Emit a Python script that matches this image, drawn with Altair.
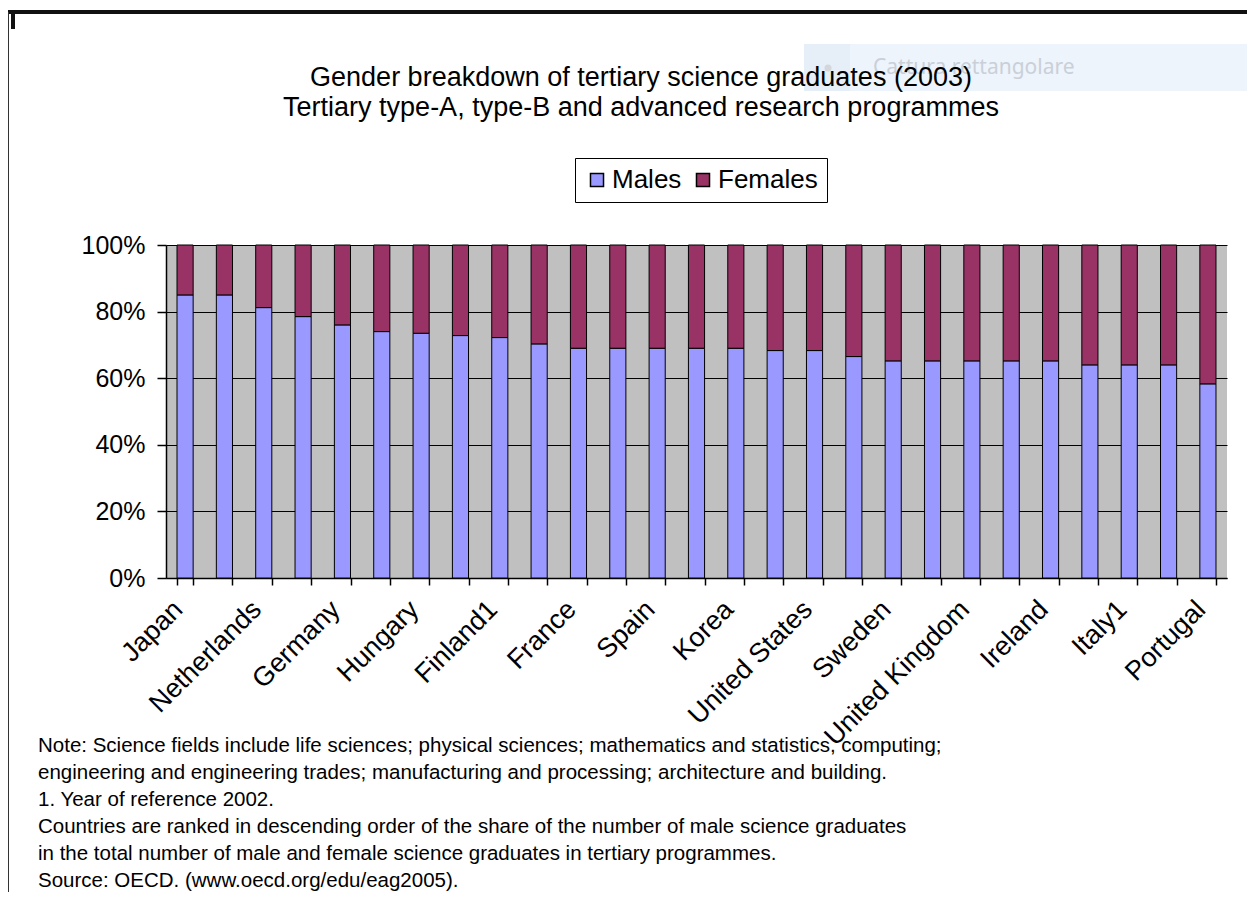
import altair as alt
import pandas as pd

# ---------------- data ----------------
countries = ["Japan", "Switzerland", "Netherlands", "Czech Republic", "Germany",
             "Austria", "Hungary", "Slovak Republic", "Finland1", "Belgium",
             "France", "Norway", "Spain", "Denmark", "Korea", "Australia",
             "United States", "Mexico", "Sweden", "Iceland", "United Kingdom",
             "New Zealand", "Ireland", "Poland", "Italy1", "Turkey", "Portugal"]
labelled = ["Japan", "Netherlands", "Germany", "Hungary", "Finland1", "France",
            "Spain", "Korea", "United States", "Sweden", "United Kingdom",
            "Ireland", "Italy1", "Portugal"]
males = [85.0, 85.0, 81.2, 78.5, 76.0, 74.0, 73.5, 72.8, 72.2, 70.3, 69.0, 69.0,
         69.0, 69.0, 69.0, 68.3, 68.3, 66.5, 65.2, 65.2, 65.2, 65.2, 65.2, 64.0,
         64.0, 64.0, 58.3]
females = [15.0, 15.0, 18.8, 21.5, 24.0, 26.0, 26.5, 27.2, 27.8, 29.7, 31.0, 31.0,
           31.0, 31.0, 31.0, 31.7, 31.7, 33.5, 34.8, 34.8, 34.8, 34.8, 34.8, 36.0,
           36.0, 36.0, 41.7]
series = ["Males", "Females"]
series_colors = ["#9999FF", "#993366"]
y_ticks = [0, 0.2, 0.4, 0.6, 0.8, 1.0]

title_lines = ["Gender breakdown of tertiary science graduates (2003)",
               "Tertiary type-A, type-B and advanced research programmes"]
note_lines = [
    "Note: Science fields include life sciences; physical sciences; mathematics and statistics, computing;",
    "engineering and engineering trades; manufacturing and processing; architecture and building.",
    "1. Year of reference 2002.",
    "Countries are ranked in descending order of the share of the number of male science graduates",
    "in the total number of male and female science graduates in tertiary programmes.",
    "Source: OECD. (www.oecd.org/edu/eag2005).",
]
overlay_text = "Cattura rettangolare"

rows = []
for c, m, f in zip(countries, males, females):
    rows.append({"country": c, "series": series[0], "value": m, "rank": 0})
    rows.append({"country": c, "series": series[1], "value": f, "rank": 1})
df = pd.DataFrame(rows)

FONT = "Liberation Sans"
W, H = 1061, 333
PL, PT = 158, 237          # plot origin at page (166, 245)
OX, OY = 166, 245          # page -> plot coordinate offset

label_list = ",".join("'" + s + "'" for s in labelled)

bars = alt.Chart(df).mark_bar(stroke="black", strokeWidth=1).encode(
    x=alt.X("country:N", sort=countries, title=None,
            scale=alt.Scale(paddingInner=0.59, paddingOuter=0.28),
            axis=alt.Axis(labelExpr=f"indexof([{label_list}], datum.value) >= 0 ? datum.value : ''",
                          labelAngle=-45, labelAlign="right", labelBaseline="middle",
                          labelFontSize=27, labelFont=FONT, labelColor="black",
                          labelPadding=20, labelOffset=-7, labelOverlap=False, labelLimit=400,
                          tickBand="extent", tickSize=7, tickColor="black", tickWidth=1.5,
                          domainColor="black", domainWidth=1.5, grid=False)),
    y=alt.Y("value:Q", stack="normalize", title=None,
            scale=alt.Scale(domain=[0, 1]),
            axis=alt.Axis(values=y_ticks, format=".0%", labelFontSize=25, labelFont=FONT,
                          labelColor="black", labelPadding=12, tickSize=9, tickColor="black",
                          tickWidth=1.5, domainColor="black", domainWidth=1.5,
                          gridColor="black", gridOpacity=1, gridWidth=1.2)),
    color=alt.Color("series:N", sort=series,
                    scale=alt.Scale(domain=series, range=series_colors),
                    legend=alt.Legend(title=None, orient="none", legendX=575 - OX, legendY=158 - OY,
                                      direction="horizontal", symbolType="square", symbolSize=170,
                                      symbolStrokeColor="black", symbolStrokeWidth=1.5,
                                      labelFontSize=26, labelFont=FONT, labelColor="black",
                                      strokeColor="black", fillColor="white", padding=9,
                                      columnPadding=8, labelOffset=2)),
    order=alt.Order("rank:Q"),
)

one = pd.DataFrame({"k": [0]})

overlay_rect = alt.Chart(one).mark_rect(fill="#EEF4FB").encode(
    x=alt.value(804 - OX), x2=alt.value(1247 - OX), y=alt.value(44 - OY), y2=alt.value(91 - OY))
overlay_rect2 = alt.Chart(one).mark_rect(fill="#E6EEF8").encode(
    x=alt.value(804 - OX), x2=alt.value(850 - OX), y=alt.value(44 - OY), y2=alt.value(91 - OY))
overlay_dot = alt.Chart(one).mark_point(filled=True, color="#D3D7DC", size=50, opacity=1).encode(
    x=alt.value(828 - OX), y=alt.value(68 - OY))
overlay_txt = alt.Chart(one).mark_text(align="left", baseline="middle", font="Noto Sans",
                                       fontSize=21, color="#C9D0D8").encode(
    x=alt.value(873 - OX), y=alt.value(68 - OY), text=alt.value(overlay_text))

title = alt.Chart(pd.DataFrame({"t": ["\n".join(title_lines)]})).mark_text(
    align="center", baseline="top", lineBreak="\n", lineHeight=30, font=FONT,
    fontSize=27, color="black").encode(
    x=alt.value(641 - OX), y=alt.value(65 - OY), text="t:N")

notes = alt.Chart(pd.DataFrame({"t": ["\n".join(note_lines)]})).mark_text(
    align="left", baseline="top", lineBreak="\n", lineHeight=27, font=FONT,
    fontSize=20.5, color="black").encode(
    x=alt.value(38 - OX), y=alt.value(736 - OY), text="t:N")

frame_top = alt.Chart(one).mark_rule(color="#111111", strokeWidth=4).encode(
    x=alt.value(0 - OX), x2=alt.value(1260 - OX), y=alt.value(12 - OY))
frame_left = alt.Chart(one).mark_rule(color="#333333", strokeWidth=2).encode(
    x=alt.value(8 - OX), y=alt.value(12 - OY), y2=alt.value(904 - OY))
frame_mark = alt.Chart(one).mark_rule(color="#111111", strokeWidth=4).encode(
    x=alt.value(13 - OX), y=alt.value(13 - OY), y2=alt.value(29 - OY))

chart = alt.layer(
    overlay_rect, overlay_rect2, overlay_dot, overlay_txt,
    bars, title, notes, frame_top, frame_left, frame_mark
).properties(
    width=W, height=H,
    autosize=alt.AutoSizeParams(type="none"),
    padding={"left": PL, "top": PT, "right": 20, "bottom": 314},
    background="white",
).configure_view(fill="#C0C0C0", stroke=None)

chart.save("out.html", embed_options={"renderer": "svg", "actions": False})
